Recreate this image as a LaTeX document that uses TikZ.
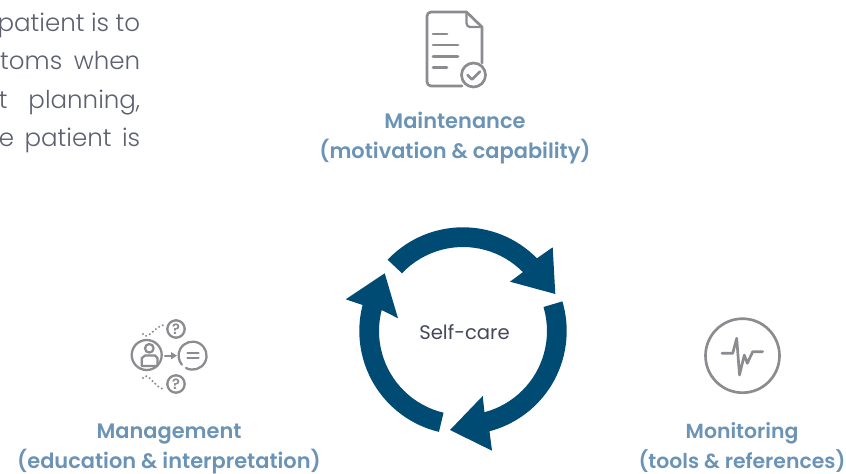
\documentclass[tikz,border=0pt]{standalone}
\usepackage{fontspec}
\setmainfont{Poppins}
\newfontfamily\lightfont{Poppins Light}
\newfontfamily\medfont{Poppins SemiBold}
\usetikzlibrary{arrows.meta}
\definecolor{navy}{HTML}{004B73}
\definecolor{capblue}{HTML}{6A93B6}
\definecolor{bodygrey}{HTML}{5C6070}
\definecolor{icongrey}{HTML}{8B8B90}
\definecolor{selfgrey}{HTML}{45475A}
\tikzset{
  caption/.style={font=\medfont\fontsize{15.7}{15.7}\selectfont,text=capblue,inner sep=0pt,anchor=base},
  captionsmall/.style={caption,font=\medfont\fontsize{15.3}{15.3}\selectfont},
  bodyline/.style={font=\lightfont\fontsize{18.4}{18.4}\selectfont,text=bodygrey,inner sep=0pt,anchor=base east},
  icon/.style={draw=icongrey,line width=2pt,line join=round,line cap=round},
  iconthin/.style={draw=icongrey,line width=1.7pt,line join=round,line cap=round},
  dots/.style={draw=icongrey,line width=1.7pt,line cap=round,dash pattern=on 0pt off 3pt},
  ringarrow/.style={fill=navy,draw=none},
  qmark/.style={font=\medfont\fontsize{11}{11}\selectfont,text=icongrey,inner sep=0pt},
}
\begin{document}
\begin{tikzpicture}[x=.75pt,y=-.75pt]
\useasboundingbox (0,0) rectangle (846,474);
\clip (0,0) rectangle (846,474);
% body text, cut by the left edge
\node[bodyline] (l1) at (140.5,32) {\hbox to 107pt{patient\hfil\ is\hfil\ to}};
\node[bodyline] (l2) at (140.5,70) {\hbox to 105pt{toms\hfil\ when}};
\node[bodyline] (l3) at (140.5,109) {\hbox to 106pt{t\hfil\ planning,}};
\node[bodyline] (l4) at (140.5,147) {\hbox to 106pt{e\hfil\ patient\hfil\ is}};
% captions
\node[caption] (m1) at (455,129) {Maintenance};
\node[caption] (m2) at (455,159) {(motivation \& capability)};
\node[caption] (g1) at (169,438) {Management};
\node[caption] (g2) at (169,468) {(education \& interpretation)};
\node[captionsmall] (t1) at (742,438) {Monitoring};
\node[captionsmall] (t2) at (742,468) {(tools \& references)};
% cycle
\begin{scope}[shift={(463,331)},yscale=-1]
\fill[ringarrow] (136.6:103.7) arc[start angle=136.6,end angle=44.5,radius=103.7]
  -- (89.7,83.7) -- (92.3,37) -- (47,49.3) -- (44.5:84) arc[start angle=44.5,end angle=136.6,radius=84] -- cycle;
\fill[ringarrow] (16.6:103.7) arc[start angle=16.6,end angle=-75.2,radius=103.7]
  -- (29,-119.7) -- (-13,-99) -- (19.7,-65) -- (-75.2:84) arc[start angle=-75.2,end angle=16.6,radius=84] -- cycle;
\fill[ringarrow] (-103.4:103.7) arc[start angle=-103.4,end angle=-194.5,radius=103.7]
  -- (-117.3,31.7) -- (-78.3,57.7) -- (-65,12.7) -- (-194.5:84) arc[start angle=-194.5,end angle=-103.4,radius=84] -- cycle;
\end{scope}
\node[font=\fontsize{14.7}{14.7}\selectfont,text=selfgrey,inner sep=0pt] (sc) at (464.5,332) {Self-care};
% document icon
\draw[icon] (466.5,12) -- (431,12) to[out=180,in=90] (427,16) -- (427,82) to[out=-90,in=180] (431,86) -- (462,86);
\draw[icon] (466.5,12) -- (482,27) -- (482,63);
\draw[iconthin] (466.5,12) -- (466.5,23) to[out=-90,in=180] (470,27) -- (482,27);
\draw[icon] (433,34) -- (447,34) (433,45) -- (458,45) (433,56.5) -- (458,56.5) (433,67.5) -- (447,67.5);
\draw[icon,fill=white] (473.5,75) circle[radius=12];
\draw[icon] (467.5,75) -- (472,79.5) -- (480,71.5);
% management icon
\draw[iconthin] (146.7,355) circle[radius=15];
\draw[iconthin] (149.3,348.3) circle[radius=4.3];
\draw[iconthin] (141.7,366) -- (141.7,358) to[out=-90,in=180] (145,355.5) -- (155,355.5) to[out=0,in=-90] (157.5,358) -- (157.5,366) -- cycle;
\draw[iconthin] (165,355.7) -- (171,355.7);
\fill[icongrey] (177,355.7) -- (171,352) -- (171,359.4) -- cycle;
\draw[iconthin] (186,368) arc[start angle=118,end angle=-220,radius=14];
\draw[iconthin] (187.5,353.3) -- (198.5,353.3) (187.5,358.3) -- (198.5,358.3);
\draw[iconthin] (176,329) circle[radius=8.7];
\draw[iconthin] (176,384) circle[radius=8.7];
\node[qmark] (q1) at (176,329) {?};
\node[qmark] (q2) at (176,384) {?};
\draw[dots] (143,334) to[out=-60,in=175] (165,325);
\draw[dots] (143,378) to[out=60,in=185] (165,389);
% monitoring icon
\draw[icon] (742.5,355.7) circle[radius=37];
\draw[icon] (722,353.3) -- (732.7,353.3) -- (736.7,338.3) -- (739.5,375) -- (744.3,355) -- (747.3,363.3) -- (752.7,351.7) -- (762.7,351.7);
\end{tikzpicture}
\end{document}
